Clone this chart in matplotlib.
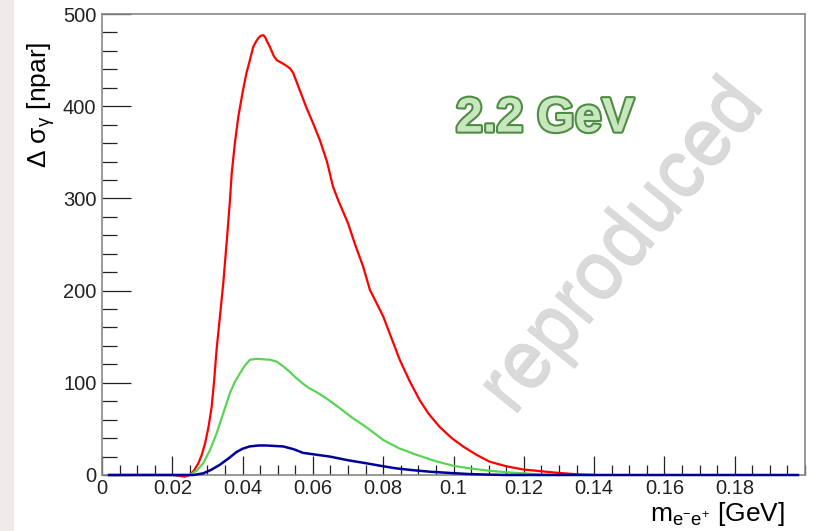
import matplotlib
matplotlib.use("Agg")
import matplotlib.pyplot as plt
import matplotlib.patheffects as pe
from matplotlib.ticker import MultipleLocator, FormatStrFormatter
from matplotlib.patches import Rectangle

plt.rcParams["font.family"] = ["Liberation Sans", "DejaVu Sans"]
plt.rcParams["mathtext.fontset"] = "custom"
plt.rcParams["mathtext.rm"] = "Liberation Sans"

# curve samples: invariant mass [GeV] vs cross-section difference [npar]
red_x = [0.002, 0.020, 0.0235, 0.025, 0.0262, 0.0274, 0.0284, 0.0293, 0.0303,
         0.0312, 0.0319, 0.0326, 0.0335, 0.0345, 0.0355, 0.0364, 0.0369, 0.0378,
         0.0388, 0.0400, 0.0411, 0.0418, 0.0430, 0.0438, 0.0445, 0.0452, 0.0459,
         0.0464, 0.0470, 0.0478, 0.0488, 0.0497, 0.052, 0.0535, 0.0544, 0.0560,
         0.0582, 0.060, 0.062, 0.064, 0.0657, 0.0672, 0.070, 0.0720, 0.0743,
         0.0762, 0.080, 0.0847, 0.0875, 0.0904, 0.0930, 0.0961, 0.0995, 0.1027,
         0.1065, 0.1103, 0.115, 0.1198, 0.1292, 0.135, 0.140]
red_y = [0, 0, -1.8, 0, 5, 12.7, 22, 34, 52,
         74, 102, 136, 170, 208, 254, 298, 327, 360,
         389, 415, 436, 446, 464, 470, 474, 476.5, 477,
         475, 470, 464, 455, 450, 445, 441, 436, 420,
         398, 382, 363, 340, 313, 298, 273, 250, 226,
         201, 172, 125, 102, 81, 66, 52, 40, 31,
         22, 14.4, 9.5, 6, 2.5, 0.8, 0]

green_x = [0.002, 0.025, 0.0270, 0.0288, 0.0307, 0.0326, 0.0345, 0.0364, 0.0378,
           0.0392, 0.0407, 0.0421, 0.044, 0.0460, 0.0478, 0.0497, 0.0515, 0.0534,
           0.0553, 0.0572, 0.059, 0.061, 0.0635, 0.0657, 0.0685, 0.0714, 0.0740,
           0.0762, 0.080, 0.0845, 0.0894, 0.0945, 0.0999, 0.105, 0.110, 0.115,
           0.120, 0.125, 0.130]
green_y = [0, 0, 5, 12.7, 27, 45, 67, 89, 101,
           110, 119, 125, 126, 125.5, 125, 123, 118, 112,
           105, 99, 94, 90, 84, 78, 70, 61.5, 55,
           49, 38, 29, 22, 15.5, 10, 7, 4.7, 3,
           1.8, 0.5, 0]

blue_x = [0.002, 0.026, 0.0288, 0.0310, 0.0335, 0.0360, 0.0383, 0.040, 0.042,
          0.0445, 0.0468, 0.0490, 0.0515, 0.0545, 0.0572, 0.061, 0.0648, 0.070,
          0.0752, 0.0795, 0.0837, 0.0885, 0.0932, 0.099, 0.1046, 0.110, 0.115,
          0.198]
blue_y = [0, 0, 1.8, 5.5, 11, 18, 25, 28.5, 31,
          32, 32, 31.5, 31, 28, 24, 22, 20, 16,
          12.7, 9.8, 7.2, 5.2, 3.6, 2.2, 1, 0.4, 0,
          0]

fig = plt.figure(figsize=(8.18, 5.31), dpi=100)
fig.patches.append(Rectangle((0, 0), 14 / 818, 1, transform=fig.transFigure,
                             facecolor="#f0eaea", edgecolor="none", zorder=0))
ax = fig.add_axes([102 / 818, 56 / 531, 703 / 818, 461 / 531])

ax.plot(red_x, red_y, color="#ff0000", lw=1.6, clip_on=False, zorder=3)
ax.plot(green_x, green_y, color="#59d454", lw=1.6, clip_on=False, zorder=4)
ax.plot(blue_x, blue_y, color="#000099", lw=1.8, clip_on=False, zorder=5)

ax.set_xlim(0, 0.2)
ax.set_ylim(0, 500)

ax.xaxis.set_minor_locator(MultipleLocator(0.005))
ax.yaxis.set_major_locator(MultipleLocator(100))
ax.yaxis.set_minor_locator(MultipleLocator(20))
ax.set_xticks([0.0, 0.02, 0.04, 0.06, 0.08, 0.1, 0.12, 0.14, 0.16, 0.18])
ax.xaxis.set_major_formatter(FormatStrFormatter("%g"))

ax.tick_params(axis="both", which="both", direction="in", colors="#222222",
               labelsize=14.5, width=0.9)
ax.tick_params(axis="x", which="major", length=14, pad=3)
ax.tick_params(axis="x", which="minor", length=7)
ax.tick_params(axis="y", which="major", length=21, pad=4)
ax.tick_params(axis="y", which="minor", length=10.5)
for s in ax.spines.values():
    s.set_color("#888888")
    s.set_linewidth(1.2)

ax.set_ylabel(r"Δ σ$_{\mathregular{γ}}$ [npar]", fontsize=19, ha="center",
              va="center")
ax.yaxis.set_label_coords(-0.087, 0.804)
ax.set_xlabel(r"m$_{\mathregular{e^{-}e^{+}}}$ [GeV]", fontsize=19, ha="right",
              va="center")
ax.xaxis.set_label_coords(0.9716, -0.085)

# beam energy label
ax.text(0.630, 0.772, "2.2 GeV", transform=ax.transAxes, ha="center", va="center",
        fontsize=35, fontweight="bold", color="#c8e6bf",
        path_effects=[pe.withStroke(linewidth=3, foreground="#4e8c42")])

# watermark
ax.text(0.740, 0.495, "reproduced", transform=ax.transAxes, ha="center",
        va="center", rotation=51, fontsize=57, color="#dadada", zorder=1,
        path_effects=[pe.withSimplePatchShadow(offset=(1.5, -1.5),
                                               shadow_rgbFace="#b0b0b0",
                                               alpha=0.5), pe.Normal()])

fig.savefig("out.png", dpi=100)
